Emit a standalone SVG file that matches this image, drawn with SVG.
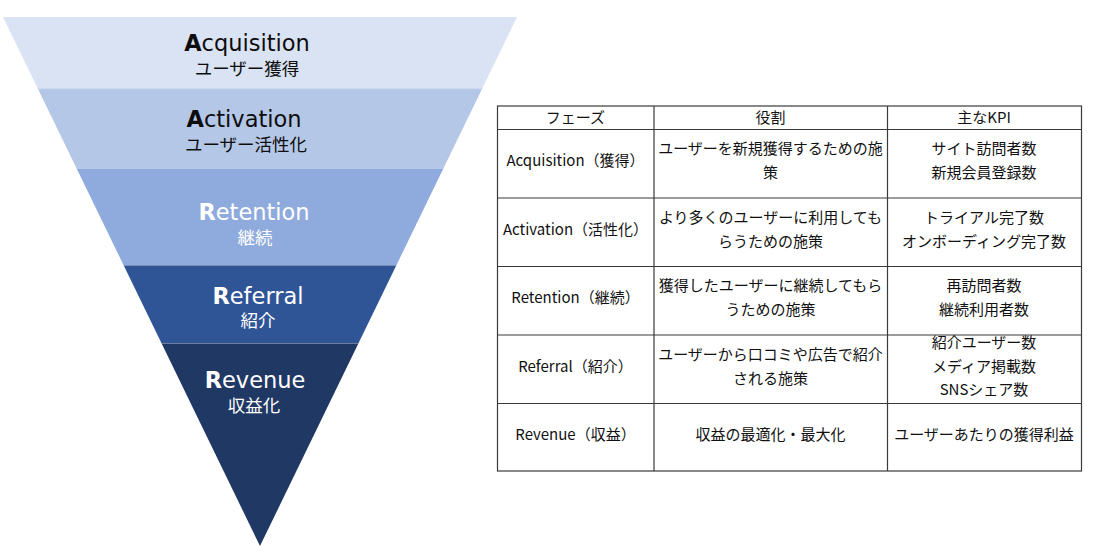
<svg xmlns="http://www.w3.org/2000/svg" width="1096" height="552" viewBox="0 0 1096 552">
<style>
.en{font-family:"DejaVu Sans","Liberation Sans",sans-serif;font-size:22.5px;text-anchor:middle}
.en tspan.b{font-weight:bold}
.jp{font-family:"Noto Sans CJK JP",sans-serif;font-size:17.5px;text-anchor:middle}
.dark{fill:#0d0d0d}
.light{fill:#ffffff}
.sep{stroke:#ffffff;stroke-opacity:0.35;stroke-width:1}
.t{font-family:"Noto Sans CJK JP",sans-serif;font-size:15px;text-anchor:middle;fill:#111}
.grid{stroke:#3a3a3a;stroke-width:1.2;fill:none}
</style>
<rect width="1096" height="552" fill="#ffffff"/>
<g id="funnel">
<g id="acquisition">
<polygon points="3,17 517,17 482.5,88 37.5,88" fill="#DAE3F3"/>
<text class="en dark" x="247" y="51"><tspan class="b">A</tspan>cquisition</text>
<text class="jp dark" x="247" y="74.5">ユーザー獲得</text>
</g>
<g id="activation">
<polygon points="37.5,88 482.5,88 443.6,168 76.4,168" fill="#B4C7E7"/>
<line class="sep" x1="37.5" y1="88.5" x2="482.5" y2="88.5"/>
<text class="en dark" x="244" y="127"><tspan class="b">A</tspan>ctivation</text>
<text class="jp dark" x="246" y="151">ユーザー活性化</text>
</g>
<g id="retention">
<polygon points="76.4,168 443.6,168 396.5,265 123.5,265" fill="#8FAADC"/>
<line class="sep" x1="76.4" y1="168.5" x2="443.6" y2="168.5"/>
<text class="en light" x="254" y="220"><tspan class="b">R</tspan>etention</text>
<text class="jp light" x="255" y="243.5">継続</text>
</g>
<g id="referral">
<polygon points="123.5,265 396.5,265 358.6,343 161.4,343" fill="#2F5597"/>
<line class="sep" x1="123.5" y1="265.5" x2="396.5" y2="265.5"/>
<text class="en light" x="258" y="303.5"><tspan class="b">R</tspan>eferral</text>
<text class="jp light" x="258" y="327">紹介</text>
</g>
<g id="revenue">
<polygon points="161.4,343 358.6,343 260,546" fill="#203864"/>
<line class="sep" x1="161.4" y1="343.5" x2="358.6" y2="343.5"/>
<text class="en light" x="255" y="388"><tspan class="b">R</tspan>evenue</text>
<text class="jp light" x="254" y="411.5">収益化</text>
</g>
</g>
<g id="table">
<g id="table-grid">
<rect class="grid" x="497.5" y="106" width="584" height="365"/>
<line class="grid" x1="654" y1="106" x2="654" y2="471"/>
<line class="grid" x1="887.5" y1="106" x2="887.5" y2="471"/>
<line class="grid" x1="497.5" y1="129.5" x2="1081.5" y2="129.5"/>
<line class="grid" x1="497.5" y1="198" x2="1081.5" y2="198"/>
<line class="grid" x1="497.5" y1="266.5" x2="1081.5" y2="266.5"/>
<line class="grid" x1="497.5" y1="335" x2="1081.5" y2="335"/>
<line class="grid" x1="497.5" y1="403.5" x2="1081.5" y2="403.5"/>
</g>
<g id="header">
<text class="t" x="575.5" y="122.5">フェーズ</text>
<text class="t" x="770.5" y="122.5">役割</text>
<text class="t" x="984" y="122.5">主なKPI</text>
</g>
<g id="row-acquisition">
<text class="t" x="575.5" y="166">Acquisition（獲得）</text>
<text class="t" x="770.5" y="154">ユーザーを新規獲得するための施</text>
<text class="t" x="770.5" y="178">策</text>
<text class="t" x="984" y="154">サイト訪問者数</text>
<text class="t" x="984" y="178">新規会員登録数</text>
</g>
<g id="row-activation">
<text class="t" x="575.5" y="234.5">Activation（活性化）</text>
<text class="t" x="770.5" y="222.5">より多くのユーザーに利用しても</text>
<text class="t" x="770.5" y="246.5">らうための施策</text>
<text class="t" x="984" y="222.5">トライアル完了数</text>
<text class="t" x="984" y="246.5">オンボーディング完了数</text>
</g>
<g id="row-retention">
<text class="t" x="575.5" y="303">Retention（継続）</text>
<text class="t" x="770.5" y="291">獲得したユーザーに継続してもら</text>
<text class="t" x="770.5" y="315">うための施策</text>
<text class="t" x="984" y="291">再訪問者数</text>
<text class="t" x="984" y="315">継続利用者数</text>
</g>
<g id="row-referral">
<text class="t" x="575.5" y="371.5">Referral（紹介）</text>
<text class="t" x="770.5" y="359.5">ユーザーから口コミや広告で紹介</text>
<text class="t" x="770.5" y="383.5">される施策</text>
<text class="t" x="984" y="348">紹介ユーザー数</text>
<text class="t" x="984" y="371.5">メディア掲載数</text>
<text class="t" x="984" y="395">SNSシェア数</text>
</g>
<g id="row-revenue">
<text class="t" x="575.5" y="439.5">Revenue（収益）</text>
<text class="t" x="770.5" y="439.5">収益の最適化・最大化</text>
<text class="t" x="984" y="439.5">ユーザーあたりの獲得利益</text>
</g>
</g>
</svg>
